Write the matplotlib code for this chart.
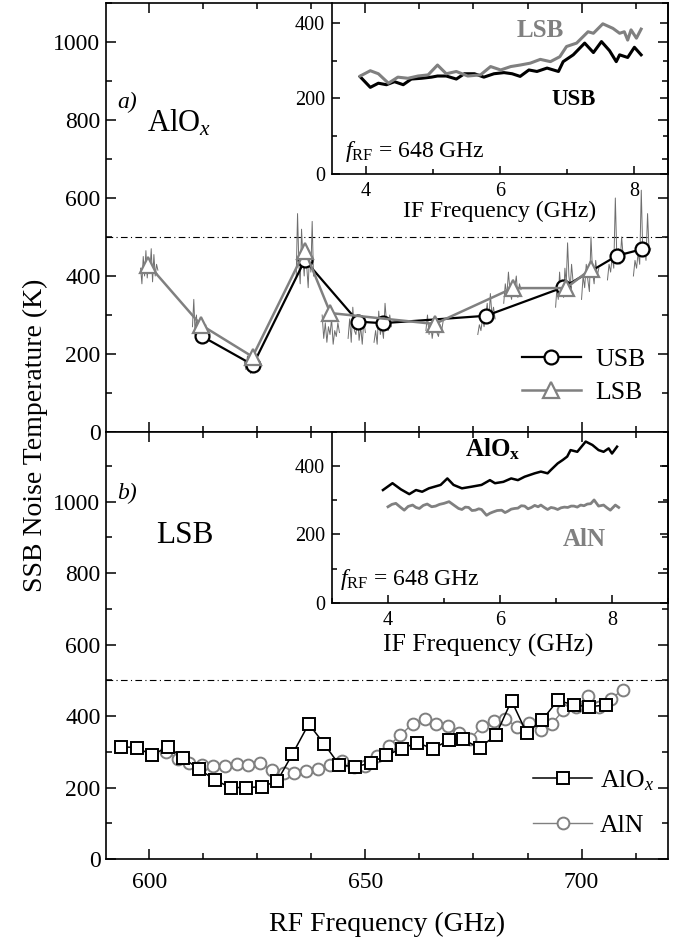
import numpy as np
import matplotlib
matplotlib.use("Agg")
import matplotlib.pyplot as plt
from matplotlib.ticker import MultipleLocator

plt.rcParams['font.family'] = ['Liberation Serif', 'DejaVu Serif']
plt.rcParams['mathtext.fontset'] = 'custom'
plt.rcParams['mathtext.rm'] = 'Liberation Serif'
plt.rcParams['mathtext.it'] = 'Liberation Serif:italic'
plt.rcParams['mathtext.bf'] = 'Liberation Serif:bold'

# ---- panel a) AlOx, USB / LSB vs RF ----
usb_rf = [612.1, 624.0, 636.0, 648.3, 654.0, 677.9, 695.8, 708.2, 714.1]
usb_t = [246, 172, 441, 283, 279, 298, 371, 452, 469]
lsb_rf = [599.8, 611.9, 623.9, 636.0, 641.9, 666.0, 684.1, 696.4, 702.2]
lsb_t = [429, 275, 193, 465, 305, 277, 369, 369, 418]

# thin IF traces drawn around each LO point (center RF, values in K)
trace_centers = [600, 612, 624, 636, 642, 648, 654, 666, 678, 684, 696, 702, 708, 714]
trace_vals = [
    [420, 380, 450, 400, 465, 395, 440, 410, 470, 385, 455, 400, 430, 415],
    [270, 340, 250, 300, 240, 280, 230, 260, 250, 235, 275, 245, 260, 250],
    [180, 160, 195, 170, 150, 185, 165, 175, 190, 160, 175, 170],
    [400, 560, 430, 380, 520, 450, 400, 480, 420, 370, 460, 410, 540, 400],
    [300, 240, 280, 230, 270, 250, 290, 225, 260, 245, 280, 255],
    [240, 290, 230, 320, 260, 250, 300, 235, 270, 225, 285, 255],
    [230, 260, 225, 310, 250, 270, 240, 330, 280, 260, 300, 270],
    [260, 300, 250, 280, 240, 270, 290, 255, 245, 275, 260, 285],
    [250, 275, 260, 290, 270, 300, 330, 280, 355, 300, 320, 290],
    [330, 380, 350, 410, 360, 340, 390, 370, 400, 345, 380, 365],
    [320, 370, 340, 410, 360, 390, 345, 420, 380, 485, 400, 370, 430, 390],
    [340, 400, 370, 430, 390, 360, 500, 410, 380, 440, 400, 420],
    [390, 430, 410, 450, 420, 600, 440, 470, 430, 500, 450, 460],
    [400, 440, 420, 460, 430, 620, 450, 480, 440, 560, 460, 470],
]

# inset a): IF sweep at 648 GHz
if_usb = [3.92, 4.07, 4.19, 4.31, 4.43, 4.56, 4.68, 4.83, 4.98, 5.07, 5.20, 5.35,
          5.47, 5.62, 5.76, 5.91, 6.06, 6.18, 6.30, 6.43, 6.55, 6.70, 6.87, 6.94,
          7.09, 7.26, 7.39, 7.51, 7.63, 7.73, 7.78, 7.90, 8.00, 8.10]
t_usb_if = [257, 229, 240, 236, 244, 236, 251, 253, 256, 259, 259, 251,
            265, 265, 256, 265, 268, 265, 258, 275, 271, 280, 271, 297,
            315, 346, 321, 350, 326, 297, 315, 308, 335, 315]
if_lsb = [3.92, 4.07, 4.19, 4.34, 4.48, 4.63, 4.78, 4.93, 5.07, 5.20, 5.35, 5.52,
          5.71, 5.86, 6.01, 6.16, 6.30, 6.45, 6.60, 6.75, 6.89, 6.99, 7.14, 7.31,
          7.39, 7.53, 7.68, 7.78, 7.85, 7.90, 7.95, 8.03, 8.10]
t_lsb_if = [259, 273, 265, 240, 256, 253, 259, 262, 288, 265, 271, 259,
            262, 284, 275, 284, 288, 293, 303, 297, 310, 337, 346, 376,
            372, 397, 385, 372, 376, 354, 381, 359, 383]

# ---- panel b) LSB, AlOx vs AlN ----
alox_rf = [593.4, 597.1, 600.6, 604.4, 607.9, 611.5, 615.2, 618.8, 622.3, 626.0,
           629.6, 633.1, 636.9, 640.4, 644.0, 647.7, 651.2, 654.8, 658.5, 662.0,
           665.6, 669.3, 672.5, 676.4, 680.2, 683.8, 687.3, 690.9, 694.5, 698.2,
           701.8, 705.6]
alox_t = [314, 312, 291, 314, 282, 252, 221, 200, 200, 202,
          218, 293, 378, 323, 263, 258, 269, 290, 309, 326,
          308, 333, 335, 311, 347, 443, 353, 389, 444, 431,
          426, 431]
aln_rf = [603.9, 606.7, 609.2, 612.1, 614.8, 617.5, 620.2, 622.9, 625.6, 628.3,
          631.1, 633.6, 636.3, 639.0, 641.7, 644.6, 647.3, 650.0, 652.7, 655.4,
          658.1, 661.0, 663.7, 666.4, 669.1, 671.6, 674.3, 677.0, 679.7, 682.4,
          685.1, 687.9, 690.6, 693.2, 695.8, 698.7, 701.4, 704.1, 706.8, 709.5]
aln_t = [300, 280, 270, 263, 261, 261, 266, 263, 268, 249,
         240, 240, 247, 252, 263, 274, 258, 260, 288, 317,
         347, 379, 391, 379, 372, 353, 336, 373, 387, 391,
         370, 382, 361, 379, 417, 426, 456, 424, 447, 474]

# inset b): IF sweep at 648 GHz
if_alox = [3.91, 4.08, 4.23, 4.38, 4.50, 4.61, 4.73, 4.94, 5.06, 5.17, 5.32, 5.50,
           5.67, 5.82, 5.91, 6.06, 6.20, 6.32, 6.44, 6.62, 6.73, 6.85, 6.91, 7.03,
           7.12, 7.20, 7.26, 7.38, 7.53, 7.65, 7.76, 7.85, 7.94, 8.00, 8.09]
t_alox_if = [330, 350, 332, 318, 330, 325, 335, 345, 364, 345, 335, 340,
             345, 359, 350, 354, 364, 359, 369, 379, 384, 379, 389, 408,
             418, 428, 447, 442, 472, 462, 447, 442, 452, 437, 457]
if_aln = [4.00, 4.07, 4.14, 4.22, 4.29, 4.36, 4.44, 4.50, 4.56, 4.63, 4.70, 4.78,
          4.85, 4.92, 5.00, 5.09, 5.20, 5.26, 5.32, 5.38, 5.44, 5.50, 5.56, 5.62,
          5.67, 5.76, 5.82, 5.88, 5.95, 6.03, 6.09, 6.14, 6.20, 6.26, 6.32, 6.38,
          6.44, 6.50, 6.56, 6.62, 6.68, 6.73, 6.79, 6.85, 6.91, 6.97, 7.03, 7.09,
          7.15, 7.21, 7.27, 7.32, 7.38, 7.44, 7.50, 7.56, 7.62, 7.68, 7.76, 7.85,
          7.91, 7.97, 8.06, 8.12]
t_aln_if = [281, 288, 291, 280, 271, 282, 286, 279, 276, 285, 289, 281,
            283, 288, 291, 296, 283, 276, 273, 280, 279, 270, 271, 275,
            273, 256, 262, 266, 270, 271, 264, 268, 274, 276, 277, 284,
            283, 275, 279, 285, 281, 286, 279, 273, 279, 277, 273, 278,
            280, 279, 283, 283, 280, 286, 284, 289, 290, 301, 283, 286,
            278, 271, 286, 279]

gray = '#808080'

fig = plt.figure(figsize=(6.89, 9.43), dpi=100)
W, H = 689.0, 943.0
ax_a = fig.add_axes([106 / W, (H - 432) / H, 562 / W, 429 / H])
ax_b = fig.add_axes([106 / W, (H - 859) / H, 562 / W, 427 / H])


def style_main(ax, ytop):
    ax.set_xlim(590, 720)
    ax.set_ylim(0, ytop)
    ax.set_yticks([0, 200, 400, 600, 800, 1000])
    ax.yaxis.set_minor_locator(MultipleLocator(100))
    ax.xaxis.set_major_locator(MultipleLocator(50))
    ax.xaxis.set_minor_locator(MultipleLocator(12.5))
    ax.tick_params(which='both', direction='in', top=True, right=True,
                   labelsize=17, width=1.1)
    ax.tick_params(which='major', length=7)
    ax.tick_params(which='minor', length=4)
    ax.tick_params(axis='y', pad=4)
    ax.tick_params(axis='x', pad=9)
    for s in ax.spines.values():
        s.set_linewidth(1.2)
    ax.axhline(500, color='black', lw=0.8, ls=(0, (6, 3, 1, 3)), zorder=1)


style_main(ax_a, 1100)
style_main(ax_b, 1195)
ax_a.tick_params(axis='x', labelbottom=False)

# panel a
for c, vals in zip(trace_centers, trace_vals):
    xs = np.linspace(c - 2.0, c + 2.0, len(vals))
    ax_a.plot(xs, vals, color='#6e6e6e', lw=0.7, zorder=2)
ax_a.plot(usb_rf, usb_t, color='black', lw=1.6, marker='o', ms=10,
          mfc='white', mec='black', mew=1.6, label='USB', zorder=4)
ax_a.plot(lsb_rf, lsb_t, color=gray, lw=1.8, marker='^', ms=11,
          mfc='white', mec=gray, mew=1.6, label='LSB', zorder=5)
ax_a.legend(loc='upper left', bbox_to_anchor=(0.74, 0.195), frameon=False,
            fontsize=18.5, handlelength=2.3, handletextpad=0.55,
            labelspacing=0.37, borderpad=0, borderaxespad=0)
ax_a.text(594.8, 845, 'a)', fontsize=17, style='italic', ha='center', va='center')
ax_a.text(599.4, 771, r'AlO$_x$', fontsize=22, ha='left', va='baseline')

# panel b
ax_b.plot(alox_rf, alox_t, color='black', lw=1.1, marker='s', ms=8,
          mfc='white', mec='black', mew=1.4, label=r'AlO$_x$', zorder=4)
ax_b.plot(aln_rf, aln_t, color=gray, lw=1.0, marker='o', ms=8.5,
          mfc='white', mec=gray, mew=1.4, label='AlN', zorder=3)
ax_b.legend(loc='upper left', bbox_to_anchor=(0.76, 0.212), frameon=False,
            fontsize=18.5, handlelength=2.3, handletextpad=0.3,
            labelspacing=0.8, borderpad=0, borderaxespad=0)
ax_b.text(594.8, 1023, 'b)', fontsize=17, style='italic', ha='center', va='center')
ax_b.text(601.5, 883, 'LSB', fontsize=22.5, ha='left', va='baseline')
ax_b.set_xlabel('RF Frequency (GHz)', fontsize=20, labelpad=14)

fig.text(35 / W, 0.538, 'SSB Noise Temperature (K)', fontsize=20,
         rotation=90, ha='center', va='center')


def style_inset(ax, xlim, ylim, lab_x, lab_y, lab_size):
    ax.set_facecolor('none')
    ax.set_xlim(*xlim)
    ax.set_ylim(*ylim)
    ax.set_xticks([4, 6, 8])
    ax.xaxis.set_minor_locator(MultipleLocator(1))
    ax.set_yticks([0, 200, 400])
    ax.yaxis.set_minor_locator(MultipleLocator(100))
    ax.spines['top'].set_visible(False)
    for s in ['left', 'bottom', 'right']:
        ax.spines[s].set_linewidth(1.2)
    ax.tick_params(which='both', direction='in', right=True, top=False,
                   labelsize=14.5, width=1.1)
    ax.tick_params(which='major', length=6)
    ax.tick_params(which='minor', length=3.5)
    ax.tick_params(axis='x', pad=6)
    ax.tick_params(axis='y', pad=5)
    ax.set_xlabel('IF Frequency (GHz)', fontsize=lab_size)
    ax.xaxis.set_label_coords(lab_x, lab_y)


ins_a = fig.add_axes([332 / W, (H - 174) / H, 336 / W, 171 / H])
style_inset(ins_a, (3.5, 8.5), (0, 452), 0.5, -0.155, 17)
ins_a.plot(if_usb, t_usb_if, color='black', lw=2.2)
ins_a.plot(if_lsb, t_lsb_if, color=gray, lw=2.2)
ins_a.text(6.6, 378, 'LSB', color=gray, fontsize=18, fontweight='bold',
           ha='center', va='center')
ins_a.text(7.1, 198, 'USB', color='black', fontsize=16.5, fontweight='bold',
           ha='center', va='center')
ins_a.text(3.69, 46, r'$f_{\mathrm{RF}}$ = 648 GHz', fontsize=17,
           ha='left', va='baseline')

ins_b = fig.add_axes([332 / W, (H - 602.7) / H, 336 / W, 170.7 / H])
style_inset(ins_b, (3, 9), (0, 500), 0.465, -0.18, 18.5)
ins_b.plot(if_alox, t_alox_if, color='black', lw=1.8)
ins_b.plot(if_aln, t_aln_if, color=gray, lw=2.0)
ins_b.text(5.38, 428, r'AlO$_\mathbf{x}$', color='black', fontsize=18,
           fontweight='bold', ha='left', va='baseline')
ins_b.text(7.51, 186, 'AlN', color=gray, fontsize=18, fontweight='bold',
           ha='center', va='center')
ins_b.text(3.14, 52, r'$f_{\mathrm{RF}}$ = 648 GHz', fontsize=17,
           ha='left', va='baseline')

fig.savefig('out.png', dpi=100)
